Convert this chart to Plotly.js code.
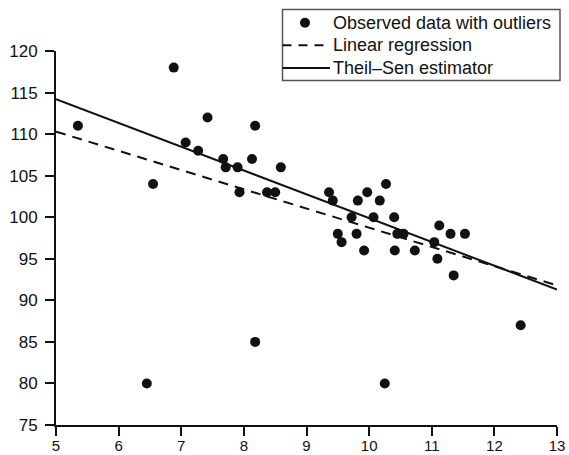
<!DOCTYPE html>
<html>
<head>
<meta charset="utf-8">
<script src="https://cdn.plot.ly/plotly-3.0.1.min.js"></script>
<style>html,body{margin:0;padding:0;background:#fff;}#chart{width:569px;height:455px;}</style>
</head>
<body>
<div id="chart"></div>
<script>
const obsX = [5.35, 6.45, 6.55, 6.88, 7.07, 7.27, 7.42, 7.67, 7.71, 7.90, 7.93, 8.13, 8.18, 8.18,
  8.37, 8.50, 8.59, 9.36, 9.42, 9.50, 9.56, 9.72, 9.80, 9.82, 9.92, 9.97, 10.07, 10.17, 10.25,
  10.27, 10.40, 10.41, 10.45, 10.55, 10.73, 11.04, 11.09, 11.12, 11.30, 11.35, 11.53, 12.42];
const obsY = [111, 80, 104, 118, 109, 108, 112, 107, 106, 106, 103, 107, 111, 85,
  103, 103, 106, 103, 102, 98, 97, 100, 98, 102, 96, 103, 100, 102, 80,
  104, 100, 96, 98, 98, 96, 97, 95, 99, 98, 93, 98, 87];
// Fitted lines (endpoints)
const lineX = [5, 13];
const linRegY = [110.3, 91.8];
const theilSenY = [114.2, 91.3];
// Legend labels and axis ticks
const legendLabels = ["Observed data with outliers", "Linear regression", "Theil\u2013Sen estimator"];
const xTicks = [5, 6, 7, 8, 9, 10, 11, 12, 13];
const yTicks = [75, 80, 85, 90, 95, 100, 105, 110, 115, 120];

const W = 569, H = 455;
const M = {l: 56, r: 12, t: 51, b: 30};
const pw = W - M.l - M.r, ph = H - M.t - M.b;
const px = p => (p - M.l) / pw;          // pixel x -> paper
const py = p => (H - M.b - p) / ph;      // pixel y -> paper
const FONT = "Liberation Sans, Arial, sans-serif";
const INK = "#111";

const traces = [
  {x: obsX, y: obsY, type: "scatter", mode: "markers", name: legendLabels[0],
   marker: {color: INK, size: 10}, showlegend: false},
  {x: lineX, y: linRegY, type: "scatter", mode: "lines", name: legendLabels[1],
   line: {color: INK, width: 2, dash: "10px,7px"}, showlegend: false},
  {x: lineX, y: theilSenY, type: "scatter", mode: "lines", name: legendLabels[2],
   line: {color: INK, width: 2}, showlegend: false}
];

// Custom legend box
const boxL = 282.5, boxR = 560, boxT = 9.5, boxB = 80.5;
const rowY = [22.7, 45.2, 68];
const symL = 282.5, symR = 330, textX = 332;
const shapes = [
  {type: "rect", xref: "paper", yref: "paper", x0: px(boxL), x1: px(boxR), y0: py(boxB), y1: py(boxT),
   line: {color: "#555", width: 1.5}, fillcolor: "rgba(0,0,0,0)"},
  {type: "circle", xref: "paper", yref: "paper", x0: px(300), x1: px(310), y0: py(rowY[0] + 5), y1: py(rowY[0] - 5),
   line: {color: INK, width: 0}, fillcolor: INK},
  {type: "line", xref: "paper", yref: "paper", x0: px(symL), x1: px(symR), y0: py(rowY[1]), y1: py(rowY[1]),
   line: {color: INK, width: 2, dash: "9px,7px"}},
  {type: "line", xref: "paper", yref: "paper", x0: px(symL), x1: px(symR), y0: py(rowY[2]), y1: py(rowY[2]),
   line: {color: INK, width: 2}}
];
const annotations = legendLabels.map((t, i) => ({
  text: t, xref: "paper", yref: "paper", x: px(textX), y: py(rowY[i]),
  xanchor: "left", yanchor: "middle", showarrow: false, borderpad: 0,
  font: {family: FONT, size: 18, color: INK}
}));

const axisCommon = {
  showgrid: false, zeroline: false, showline: true, linecolor: INK, linewidth: 2,
  ticks: "outside", ticklen: 9, tickwidth: 2, tickcolor: INK,
  tickfont: {family: FONT, size: 17, color: INK}, mirror: false
};

const layout = {
  width: W, height: H,
  margin: M,
  paper_bgcolor: "#fff", plot_bgcolor: "#fff",
  showlegend: false,
  xaxis: Object.assign({}, axisCommon, {range: [5, 13], tickmode: "array", tickvals: xTicks,
    ticktext: xTicks.map(String), ticklabelstandoff: -3,
    tickfont: {family: FONT, size: 15, color: INK}}),
  yaxis: Object.assign({}, axisCommon, {range: [75, 120], tickmode: "array", tickvals: yTicks,
    ticktext: yTicks.map(String), ticklabelstandoff: 4}),
  shapes: shapes,
  annotations: annotations
};

Plotly.newPlot("chart", traces, layout, {staticPlot: true, displayModeBar: false});
</script>
</body>
</html>
